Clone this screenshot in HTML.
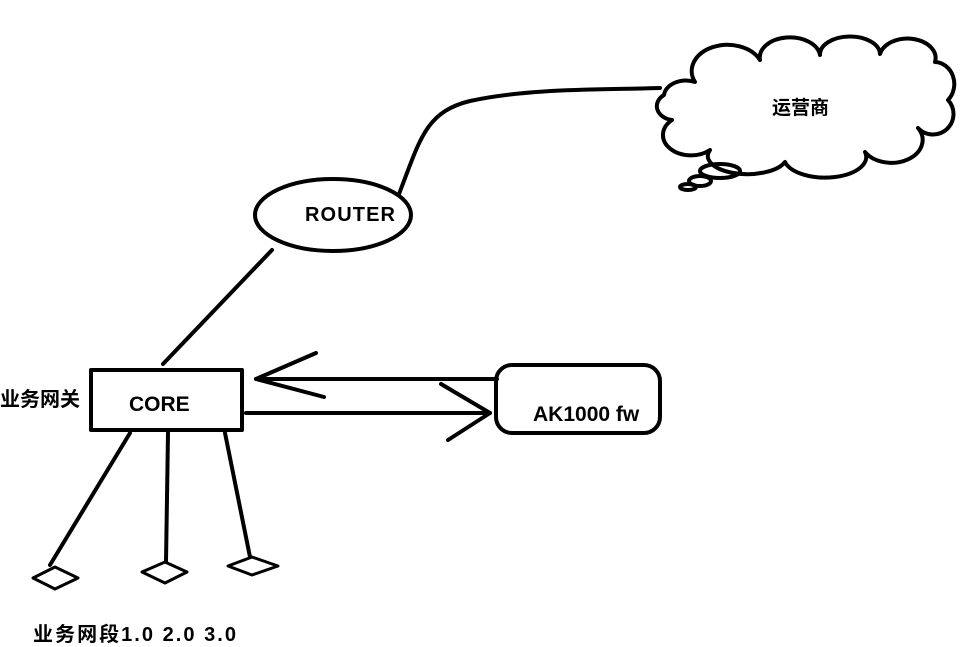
<!DOCTYPE html>
<html><head><meta charset="utf-8"><style>
html,body{margin:0;padding:0;background:#fff;width:965px;height:647px;overflow:hidden}
svg{display:block}
text{font-family:"Liberation Sans","Noto Sans CJK SC",sans-serif;font-weight:bold;fill:#000}
</style></head><body>
<svg width="965" height="647" viewBox="0 0 965 647" xmlns="http://www.w3.org/2000/svg">
<g fill="none" stroke="#000" stroke-width="4" stroke-linecap="round" stroke-linejoin="round">
<!-- cloud -->
<path d="M672,120 A18,14 0 0 1 664,95 A22,16 0 0 1 695,82 A30,22 0 0 1 760,60 A30,20 0 0 1 820,55 A30,18 0 0 1 880,54 A26,18 0 0 1 935,62 A20,22 0 0 1 948,100 A20,20 0 0 1 918,128 A30,22 0 0 1 865,152 A40,20 0 0 1 785,162 A35,16 0 0 1 710,150 A22,16 0 0 1 672,120 Z" fill="#fff"/>
<ellipse cx="720" cy="171" rx="20" ry="7"/>
<ellipse cx="700" cy="181" rx="11" ry="5"/>
<ellipse cx="688" cy="187" rx="8" ry="3"/>
<path d="M399,194 C420,140 425,112 470,101 C530,88 600,90 660,88"/>
<ellipse cx="333" cy="215" rx="78" ry="36"/>
<line x1="272" y1="250" x2="163" y2="364"/>
<rect x="91" y="370" width="151" height="60"/>
<line x1="497" y1="379" x2="256" y2="379"/>
<polyline points="316,353 256,379 324,397"/>
<line x1="246" y1="413" x2="490" y2="413"/>
<polyline points="441,384 490,413 448,440"/>
<rect x="496" y="365" width="164" height="68" rx="16"/>
<line x1="130" y1="433" x2="50" y2="565"/>
<line x1="168" y1="433" x2="166" y2="562"/>
<line x1="225" y1="433" x2="250" y2="557"/>
<polygon points="33,578 55,567 78,578 55,589" stroke-width="3"/>
<polygon points="142,572 165,562 187,572 165,583" stroke-width="3"/>
<polygon points="228,566 252,557 278,566 252,575" stroke-width="3"/>
</g>
<text x="772" y="114" font-size="19">运营商</text>
<text x="305" y="221" font-size="20" textLength="90">ROUTER</text>
<text x="129" y="411" font-size="21">CORE</text>
<text x="0" y="406" font-size="20">业务网关</text>
<text x="533" y="421" font-size="21">AK1000 fw</text>
<text x="33" y="641" font-size="20" textLength="203">业务网段1.0 2.0 3.0</text>
</svg>
</body></html>
